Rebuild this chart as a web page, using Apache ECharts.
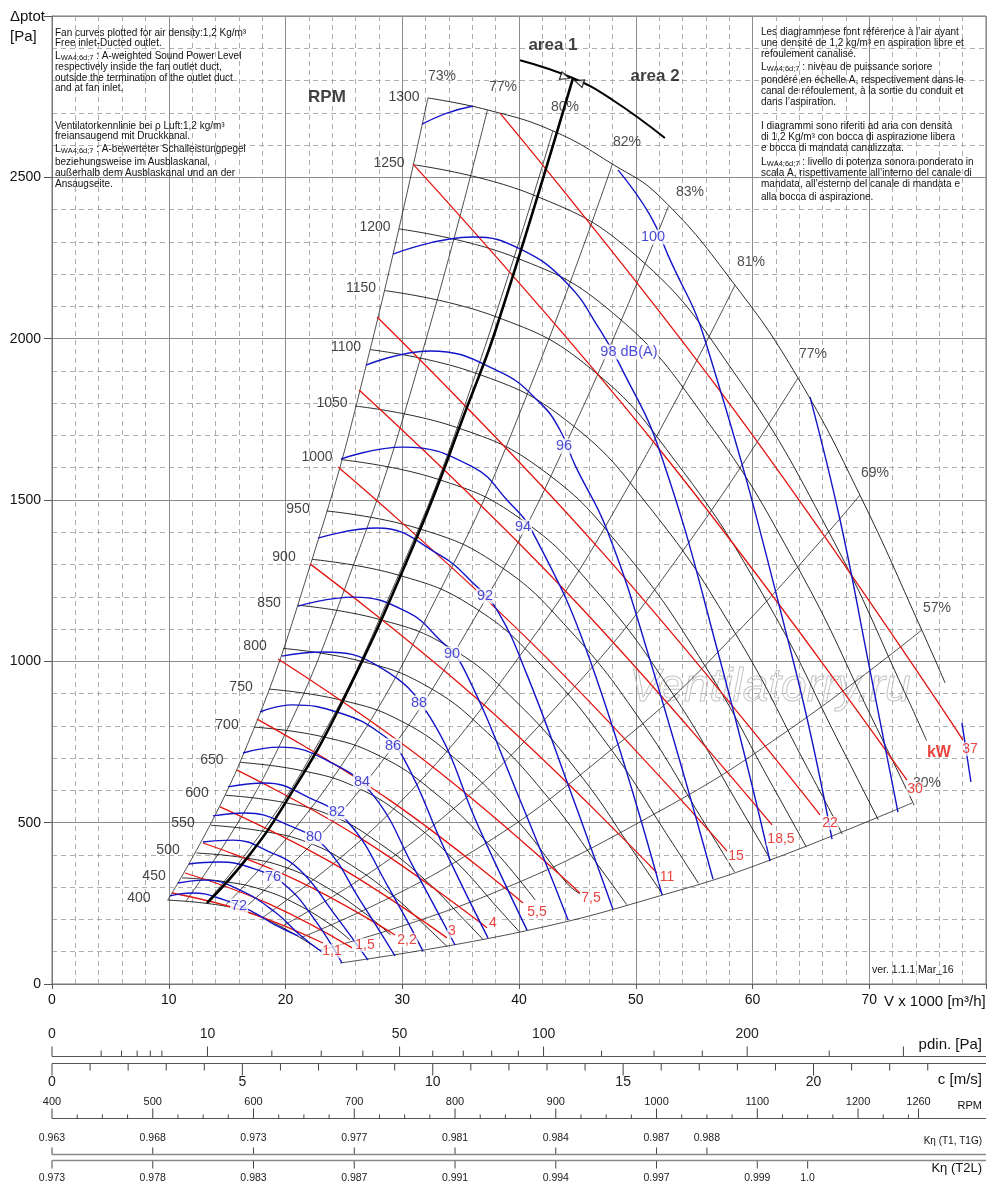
<!DOCTYPE html>
<html>
<head>
<meta charset="utf-8">
<title>Fan curves</title>
<script src="https://cdn.jsdelivr.net/npm/echarts@6/dist/echarts.min.js"></script>
<style>
html,body{margin:0;padding:0;background:#fff;}
#container{width:1000px;height:1184px;}
</style>
</head>
<body>
<div id="container"></div>
<script>
// ---- data: V in 1000 m3/h, dp in Pa ----

// fan speed curves
var rpmNames = ['400','450','500','550','600','650','700','750','800','850','900','950','1000','1050','1100','1150','1200','1250','1300'];
var rpmCurves = [
	[[9.91,260],[13.20,250],[16.03,231],[18.65,195],[21.29,143],[23.10,100]],
	[[11.15,329],[14.85,317],[18.03,292],[20.98,247],[23.95,182],[25.50,137]],
	[[12.38,406],[16.50,391],[20.04,361],[23.31,304],[26.62,224],[29.00,152]],
	[[13.62,492],[18.15,473],[22.04,437],[25.64,368],[29.28,271],[32.37,167],[33.85,116]],
	[[14.86,585],[19.80,563],[24.05,520],[27.97,438],[31.94,323],[35.31,199],[36.92,138]],
	[[16.10,687],[21.45,661],[26.05,610],[30.30,515],[34.60,379],[38.25,233],[40.00,163]],
	[[17.34,796],[23.10,767],[28.05,707],[32.63,597],[37.26,439],[41.40,260]],
	[[18.58,914],[24.75,880],[30.06,812],[34.96,685],[39.92,504],[44.13,311],[45.20,280]],
	[[19.82,1040],[26.40,1001],[32.06,924],[37.29,779],[42.58,574],[47.08,353],[49.23,246]],
	[[21.05,1174],[28.05,1130],[34.07,1043],[39.62,880],[45.25,648],[50.02,399],[52.31,278]],
	[[22.29,1316],[29.70,1267],[36.07,1169],[41.95,986],[47.91,726],[52.96,447],[55.38,312]],
	[[23.53,1466],[31.35,1412],[38.07,1302],[44.28,1099],[50.57,809],[55.90,498],[58.46,347]],
	[[24.77,1625],[33.00,1565],[40.08,1443],[46.62,1218],[53.23,896],[58.85,552],[61.54,385]],
	[[26.01,1791],[34.65,1725],[42.08,1591],[48.95,1343],[55.89,988],[61.79,609],[64.62,424]],
	[[27.25,1966],[36.30,1893],[44.08,1746],[51.28,1473],[58.55,1085],[64.73,668],[67.69,465]],
	[[28.49,2149],[37.95,2069],[46.09,1909],[53.61,1610],[61.22,1186],[67.67,730],[70.77,509]],
	[[29.72,2340],[39.60,2253],[48.09,2078],[55.94,1754],[63.88,1291],[70.62,795],[73.85,554]],
	[[30.96,2539],[41.25,2445],[50.10,2255],[58.27,1903],[66.54,1401],[73.56,863],[74.90,755]],
	[[32.20,2746],[37.30,2709],[42.90,2644],[48.00,2541],[52.10,2439],[58.50,2166],[63.90,1878],[69.20,1515],[74.50,1097],[76.50,933]]
];
var rpmLabelPts = [[7.45,267],[8.74,335],[9.94,415],[11.22,499],[12.42,592],[13.70,694],[14.99,803],[16.19,920],[17.39,1047],[18.59,1181],
	[19.87,1323],[21.07,1472],[22.70,1633],[23.98,1801],[25.18,1974],[26.47,2157],[27.67,2346],[28.87,2544],[30.15,2749]];

// efficiency lines
var effNames = ['73%','77%','80%','82%','83%','81%','77%','69%','57%','30%'];
var effLines = [
	[[9.91,260],[16.10,687],[22.54,1346],[27.37,1984],[32.20,2746]],
	[[11.48,257],[18.65,677],[26.11,1327],[31.71,1957],[37.30,2709]],
	[[13.20,250],[21.45,661],[30.03,1296],[36.47,1910],[42.90,2644]],
	[[14.77,241],[24.00,635],[33.60,1245],[40.80,1836],[48.00,2541]],
	[[16.25,228],[26.40,603],[36.96,1181],[44.88,1741],[52.80,2410]],
	[[18.00,205],[29.25,542],[40.95,1061],[49.73,1565],[58.50,2166]],
	[[19.66,178],[31.95,470],[44.73,920],[54.32,1357],[63.90,1878]],
	[[21.29,143],[34.60,379],[48.44,742],[58.82,1095],[69.20,1515]],
	[[22.92,104],[37.25,274],[52.15,538],[63.33,793],[74.50,1097]],
	[[24.67,65],[40.09,161],[53.19,285],[61.50,384],[73.66,561]]
];
var effLabelPts = [[33.40,2814],[38.63,2780],[43.94,2718],[49.25,2609],[54.65,2454],[59.87,2237],[65.18,1952],[70.49,1584],[75.80,1165],[74.95,623]];

// shaft power lines, kW
var powerNames = ['1,1','1,5','2,2','3','4','5,5','7,5','11','15','18,5','22','30','37'];
var powerLines = [
	[[10.28,282],[16.74,223],[23.21,127]],
	[[11.39,344],[18.54,249],[25.70,112]],
	[[12.93,437],[21.16,318],[29.38,152]],
	[[14.39,549],[24.11,373],[33.83,143]],
	[[15.85,663],[26.55,449],[37.26,174]],
	[[17.56,821],[28.95,569],[40.34,251]],
	[[19.36,1007],[32.29,682],[45.22,282]],
	[[22.10,1302],[36.96,866],[51.82,344]],
	[[24.50,1602],[41.16,1054],[57.82,412]],
	[[26.30,1841],[43.98,1218],[61.67,493]],
	[[27.84,2067],[46.81,1351],[65.78,524]],
	[[30.92,2541],[52.08,1655],[73.23,632]],
	[[38.37,2699],[58.20,1790],[78.03,756]]
];
var powerLabelPts = [[23.98,102],[26.81,121],[30.41,136],[34.26,164],[37.77,189],[41.54,223],[46.17,267],[52.68,332],[58.59,397],[62.44,449],[66.64,499],[73.92,604],[78.63,728]];

// sound power level curves, dB(A)
var soundCurves = [
	[[10.11,273],[11.99,282],[14.82,260],[17.22,223],[19.10,183],[21.07,149]],
	[[10.79,313],[13.10,322],[16.10,291],[19.10,223],[21.24,152],[23.13,99]],
	[[11.73,372],[14.22,378],[17.39,356],[19.96,307],[22.53,198],[24.84,65]],
	[[12.93,440],[15.50,446],[18.67,409],[21.24,353],[24.24,214],[27.07,74]],
	[[13.79,521],[16.53,530],[20.39,490],[23.38,425],[26.38,260],[29.38,87]],
	[[15.07,611],[18.24,623],[22.10,576],[25.35,502],[28.95,291],[31.78,102]],
	[[16.36,716],[19.53,734],[23.81,688],[27.49,586],[31.09,353],[34.52,121]],
	[[17.82,843],[20.56,865],[24.67,840],[28.09,778],[30.06,703],[33.66,415],[37.34,143]],
	[[19.70,1016],[23.21,1029],[28.09,982],[32.38,827],[36.66,477],[40.69,167]],
	[[21.07,1171],[25.78,1199],[30.41,1153],[33.23,1066],[35.20,982],[40.09,570],[44.20,198]],
	[[22.78,1382],[27.84,1413],[33.23,1329],[36.06,1243],[38.12,1159],[40.69,958],[44.37,601],[48.05,232]],
	[[24.75,1627],[30.06,1664],[36.06,1602],[38.97,1500],[41.20,1398],[46.08,1004],[52.25,276]],
	[[26.89,1918],[32.38,1962],[38.37,1897],[41.80,1801],[43.51,1717],[44.80,1608],[47.54,1407],[51.22,1004],[56.62,325]],
	[[29.21,2262],[36.06,2315],[40.09,2278],[44.11,2172],[46.94,2027],[48.65,1918],[52.08,1649],[57.22,1004],[61.50,381]],
	[[31.69,2665],[33.83,2699],[36.06,2721]],
	[[48.48,2523],[51.22,2383],[52.76,2259],[55.93,1996],[63.47,1004],[66.81,449]],
	[[64.93,1819],[67.50,1438],[69.89,1004],[72.46,533]],
	[[77.94,809],[78.71,626]]
];
var soundNames = ['72','76','80','82','84','86','88','90','92','94','96','98 dB(A)','100'];
var soundLabelPts = [[16.02,242],[18.93,332],[22.44,456],[24.41,533],[26.55,626],[29.21,738],[31.43,871],[34.26,1023],[37.09,1202],[40.34,1416],[43.85,1667],[49.42,1959],[51.48,2315]];

// area 1 / area 2 divider
var areaLine = [[13.28,251],[16.70,390],[20.13,570],[24.67,860],[31.26,1385],[35.55,1788],[38.12,2040],[44.63,2808]];
var areaArc = [[40.09,2863],[44.65,2807],[48.05,2739],[52.50,2622]];

// bottom scales
var airDensity = 1.2;
var pdinTicks = [0,1,2,3,4,5,10,20,30,40,50,60,70,80,90,100,125,150,175,200,250,300];
var pdinLabels = [0,10,50,100,200];
var pdinLong = [0,10,50,100,200,300];
var cTicks = [0,1,2,3,4,5,6,7,8,9,10,11,12,13,14,15,16,17,18,19,20,21,22,23];
var cLabels = [0,5,10,15,20];
var rpmScaleTicks = [400,425,450,475,500,525,550,575,600,625,650,675,700,725,750,775,800,825,850,875,900,925,950,975,
	1000,1025,1050,1075,1100,1125,1150,1175,1200,1225,1250,1260];
var rpmScaleLabels = [400,500,600,700,800,900,1000,1100,1200,1260];
var ketaT1Rpm = [400,500,600,700,800,900,1000,1050];
var ketaT1 = ['0.963','0.968','0.973','0.977','0.981','0.984','0.987','0.988'];
var ketaT2Rpm = [400,500,600,700,800,900,1000,1100,1150];
var ketaT2 = ['0.973','0.978','0.983','0.987','0.991','0.994','0.997','0.999','1.0'];

var FONT = '"Liberation Sans", Arial, Helvetica, sans-serif';

var dom = document.getElementById('container');
var myChart = echarts.init(dom);

function curve(pts, color, width, z) {
	return {
		type: 'line', data: pts, symbol: 'none', showSymbol: false, silent: true,
		smooth: 0.45, z: z || 2,
		lineStyle: { color: color, width: width }
	};
}

function labels(names, pts, color, size, extra) {
	var lab = { show: true, position: 'inside', formatter: '{b}', color: color, fontSize: size, fontFamily: FONT };
	for (var k in (extra || {})) lab[k] = extra[k];
	return {
		type: 'scatter', silent: true, z: 10, symbolSize: 1,
		itemStyle: { color: 'rgba(0,0,0,0)' },
		data: pts.map(function (p, i) { return { value: p, name: names[i] }; }),
		label: lab
	};
}

// tick marks of the bottom scales, x from the hidden axes of grid 1
function scale(axisIdx, values, o) {
	return {
		type: 'custom', xAxisIndex: axisIdx, yAxisIndex: 1, silent: true,
		data: values.map(function (v) { return [v, 0]; }),
		renderItem: function (params, api) {
			var i = params.dataIndex;
			var x = api.coord([api.value(0), 0])[0];
			var kids = [{
				type: 'line',
				shape: { x1: x, y1: o.y, x2: x, y2: o.y + o.dir * o.len(i) },
				style: { stroke: '#444', lineWidth: 1 }
			}];
			var t = o.label(i);
			if (t !== null) {
				kids.push({
					type: 'text',
					style: { text: t, x: x, y: o.ly, textAlign: 'center', textVerticalAlign: 'middle',
						align: 'center', verticalAlign: 'middle', font: o.font, fill: '#222' }
				});
			}
			return { type: 'group', children: kids };
		}
	};
}

var series = [];
rpmCurves.forEach(function (c) { series.push(curve(c, '#111', 0.9)); });
effLines.forEach(function (c) { series.push(curve(c, '#222', 0.8)); });
powerLines.forEach(function (c) { series.push(curve(c, '#e3140f', 1.3, 3)); });
soundCurves.forEach(function (c) { series.push(curve(c, '#1414c8', 1.4, 4)); });
series.push(curve(areaLine, '#000', 2.6, 5));
series.push(curve(areaArc, '#000', 2, 5));
series.push({
	type: 'scatter', silent: true, z: 6, symbol: 'triangle', symbolSize: [8, 9],
	itemStyle: { color: '#fff', borderColor: '#000', borderWidth: 1.2 },
	data: [{ value: [43.94, 2811], symbolRotate: -109 }, { value: [45.14, 2795], symbolRotate: 71 }]
});

series.push(labels(rpmNames, rpmLabelPts, '#111', 14));
series.push(labels(effNames, effLabelPts, '#222', 14));
series.push(labels(soundNames, soundLabelPts, '#1a1acc', 14.5, { backgroundColor: '#fff', padding: [0, 1] }));
series.push(labels(powerNames, powerLabelPts, '#e3140f', 14, { backgroundColor: 'rgba(255,255,255,0.85)', padding: [0, 1] }));
series.push(labels(['kW'], [[75.97, 716]], '#e3140f', 16, { fontWeight: 'bold' }));
series.push(labels(['area 1', 'area 2', 'RPM'], [[42.91, 2910], [51.65, 2814], [23.55, 2749]], '#111', 17, { fontWeight: 'bold' }));

series.push(scale(1, pdinTicks.map(function (p) { return Math.sqrt(2 * p / airDensity); }), {
	y: 1056.5, dir: -1, ly: 1034, font: '14px ' + FONT,
	len: function (i) { return pdinLong.indexOf(pdinTicks[i]) >= 0 ? 10 : 6; },
	label: function (i) { return pdinLabels.indexOf(pdinTicks[i]) >= 0 ? String(pdinTicks[i]) : null; }
}));
series.push(scale(1, cTicks, {
	y: 1063.5, dir: 1, ly: 1082, font: '14px ' + FONT,
	len: function (i) { return cLabels.indexOf(cTicks[i]) >= 0 ? 12 : 7; },
	label: function (i) { return cLabels.indexOf(cTicks[i]) >= 0 ? String(cTicks[i]) : null; }
}));
series.push(scale(2, rpmScaleTicks, {
	y: 1118.5, dir: -1, ly: 1102, font: '11px ' + FONT,
	len: function (i) { return rpmScaleLabels.indexOf(rpmScaleTicks[i]) >= 0 ? 10 : 4; },
	label: function (i) { return rpmScaleLabels.indexOf(rpmScaleTicks[i]) >= 0 ? String(rpmScaleTicks[i]) : null; }
}));
series.push(scale(2, ketaT1Rpm, {
	y: 1154.5, dir: -1, ly: 1138, font: '10.5px ' + FONT,
	len: function () { return 7; },
	label: function (i) { return ketaT1[i]; }
}));
series.push(scale(2, ketaT2Rpm, {
	y: 1160.5, dir: 1, ly: 1178, font: '10.5px ' + FONT,
	len: function () { return 8; },
	label: function (i) { return ketaT2[i]; }
}));

// text blocks
var gfx = [];
function txt(x, y, s, size, opts) {
	var st = { text: s, x: x, y: y, font: size + 'px ' + FONT, fill: '#111',
		textAlign: 'left', align: 'left', textVerticalAlign: 'middle', verticalAlign: 'middle' };
	for (var k in (opts || {})) st[k] = opts[k];
	gfx.push({ type: 'text', z: 20, silent: true, style: st });
}
function lwa(x, y, rest) {
	txt(x, y, '{l|L}{s|WA4;6d;7}' + rest, 10, { rich: { l: { fontSize: 10.5, fontFamily: 'Liberation Sans' }, s: { fontSize: 7.5, fontFamily: 'Liberation Sans', padding: [4, 0, 0, 0] } } });
}
var leftX = 55;
txt(leftX, 33, 'Fan curves plotted for air density:1,2 Kg/m³', 10);
txt(leftX, 43, 'Free inlet-Ducted outlet.', 10);
lwa(leftX, 56, ' : A-weighted Sound Power Level');
txt(leftX, 67, 'respectively inside the fan outlet duct,', 10);
txt(leftX, 78, 'outside the termination of the outlet duct', 10);
txt(leftX, 88, 'and at fan inlet.', 10);
txt(leftX, 126, 'Ventilatorkennlinie bei ρ Luft:1,2 kg/m³', 10);
txt(leftX, 136, 'freiansaugend mit Druckkanal.', 10);
lwa(leftX, 149, ' : A-bewerteter Schalleistungpegel');
txt(leftX, 162, 'beziehungsweise im Ausblaskanal,', 10);
txt(leftX, 173, 'außerhalb dem Ausblaskanal und an der', 10);
txt(leftX, 184, 'Ansaugseite.', 10);

var rightX = 761;
txt(rightX, 32, 'Les diagrammese font référence à l\u2019air ayant', 10);
txt(rightX, 43, 'une densité de 1,2 kg/m³ en aspiration libre et', 10);
txt(rightX, 54, 'refoulement canalisé.', 10);
lwa(rightX, 67, ' : niveau de puissance sonore');
txt(rightX, 80, 'pondéré en échelle A, respectivement dans le', 10);
txt(rightX, 91, 'canal de réfoulement, à la sortie du conduit et', 10);
txt(rightX, 102, 'dans l\u2019aspiration.', 10);
txt(rightX, 126, 'I diagrammi sono riferiti ad aria con densità', 10);
txt(rightX, 137, 'di 1,2 Kg/m³ con bocca di aspirazione libera', 10);
txt(rightX, 148, 'e bocca di mandata canalizzata.', 10);
lwa(rightX, 162, ' : livello di potenza sonora ponderato in');
txt(rightX, 173, 'scala A, rispettivamente all\u2019interno del canale di', 10);
txt(rightX, 184, 'mandata, all\u2019esterno del canale di mandata e', 10);
txt(rightX, 197, 'alla bocca di aspirazione.', 10);

txt(10, 17, '\u0394ptot', 15);
txt(10, 37, '[Pa]', 15);
txt(884, 1002, 'V x 1000 [m³/h]', 15);
txt(982, 1045, 'pdin. [Pa]', 15, { textAlign: 'right', align: 'right' });
txt(982, 1080, 'c [m/s]', 15, { textAlign: 'right', align: 'right' });
txt(982, 1106, 'RPM', 11, { textAlign: 'right', align: 'right' });
txt(982, 1141, 'K\u03b7 (T1, T1G)', 10, { textAlign: 'right', align: 'right' });
txt(982, 1168, 'K\u03b7 (T2L)', 13, { textAlign: 'right', align: 'right' });
txt(872, 970, 'ver. 1.1.1 Mar_16', 10.5);
gfx.push({ type: 'text', z: 1, silent: true, style: { text: 'Ventilatorry.ru', x: 770, y: 688, font: 'italic 46px ' + FONT,
	fill: 'rgba(255,255,255,0)', stroke: '#c4c4c4', lineWidth: 1,
	textAlign: 'center', align: 'center', textVerticalAlign: 'middle', verticalAlign: 'middle' } });

// long lines of the bottom scales
[[1056.5, 1, '#555'], [1063.5, 1, '#555'], [1118.5, 1, '#555'], [1154.5, 1.6, '#8a8a8a'], [1160.5, 1.6, '#8a8a8a']].forEach(function (l) {
	gfx.push({ type: 'line', z: 20, silent: true, shape: { x1: 52, y1: l[0], x2: 986, y2: l[0] }, style: { stroke: l[2], lineWidth: l[1] } });
});

var option = {
	animation: false,
	backgroundColor: '#fff',
	grid: [
		{ left: 52, top: 16, width: 934, height: 968, show: true, borderColor: '#777', borderWidth: 1, outerBoundsMode: 'none' },
		{ left: 52, top: 1010, width: 934, height: 170, outerBoundsMode: 'none' }
	],
	xAxis: [
		{
			type: 'value', gridIndex: 0, min: 0, max: 80, interval: 10,
			axisLine: { show: true, lineStyle: { color: '#777' } },
			axisTick: { show: true, length: 5, lineStyle: { color: '#555' } },
			axisLabel: { color: '#111', fontSize: 14, fontFamily: FONT, margin: 9,
				formatter: function (v) { return v === 80 ? '' : v; } },
			splitLine: { show: true, lineStyle: { color: '#8c8c8c', width: 1 } },
			minorTick: { show: false, splitNumber: 5 },
			minorSplitLine: { show: true, lineStyle: { color: '#9a9a9a', width: 0.8, type: [5, 4] } }
		},
		{ type: 'value', gridIndex: 1, min: 0, max: 24.53, show: false },
		{ type: 'value', gridIndex: 1, min: 400, max: 1327, show: false }
	],
	yAxis: [
		{
			type: 'value', gridIndex: 0, min: 0, max: 3000, interval: 500,
			axisLine: { show: true, lineStyle: { color: '#777' } },
			axisTick: { show: true, length: 8, lineStyle: { color: '#555' } },
			axisLabel: { color: '#111', fontSize: 14, fontFamily: FONT, margin: 11,
				formatter: function (v) { return v === 3000 ? '' : v; } },
			splitLine: { show: true, lineStyle: { color: '#8c8c8c', width: 1 } },
			minorTick: { show: false, splitNumber: 5 },
			minorSplitLine: { show: true, lineStyle: { color: '#9a9a9a', width: 0.8, type: [5, 4] } }
		},
		{ type: 'value', gridIndex: 1, min: 0, max: 1, show: false }
	],
	graphic: gfx,
	series: series
};

myChart.setOption(option, true);
</script>
</body>
</html>
